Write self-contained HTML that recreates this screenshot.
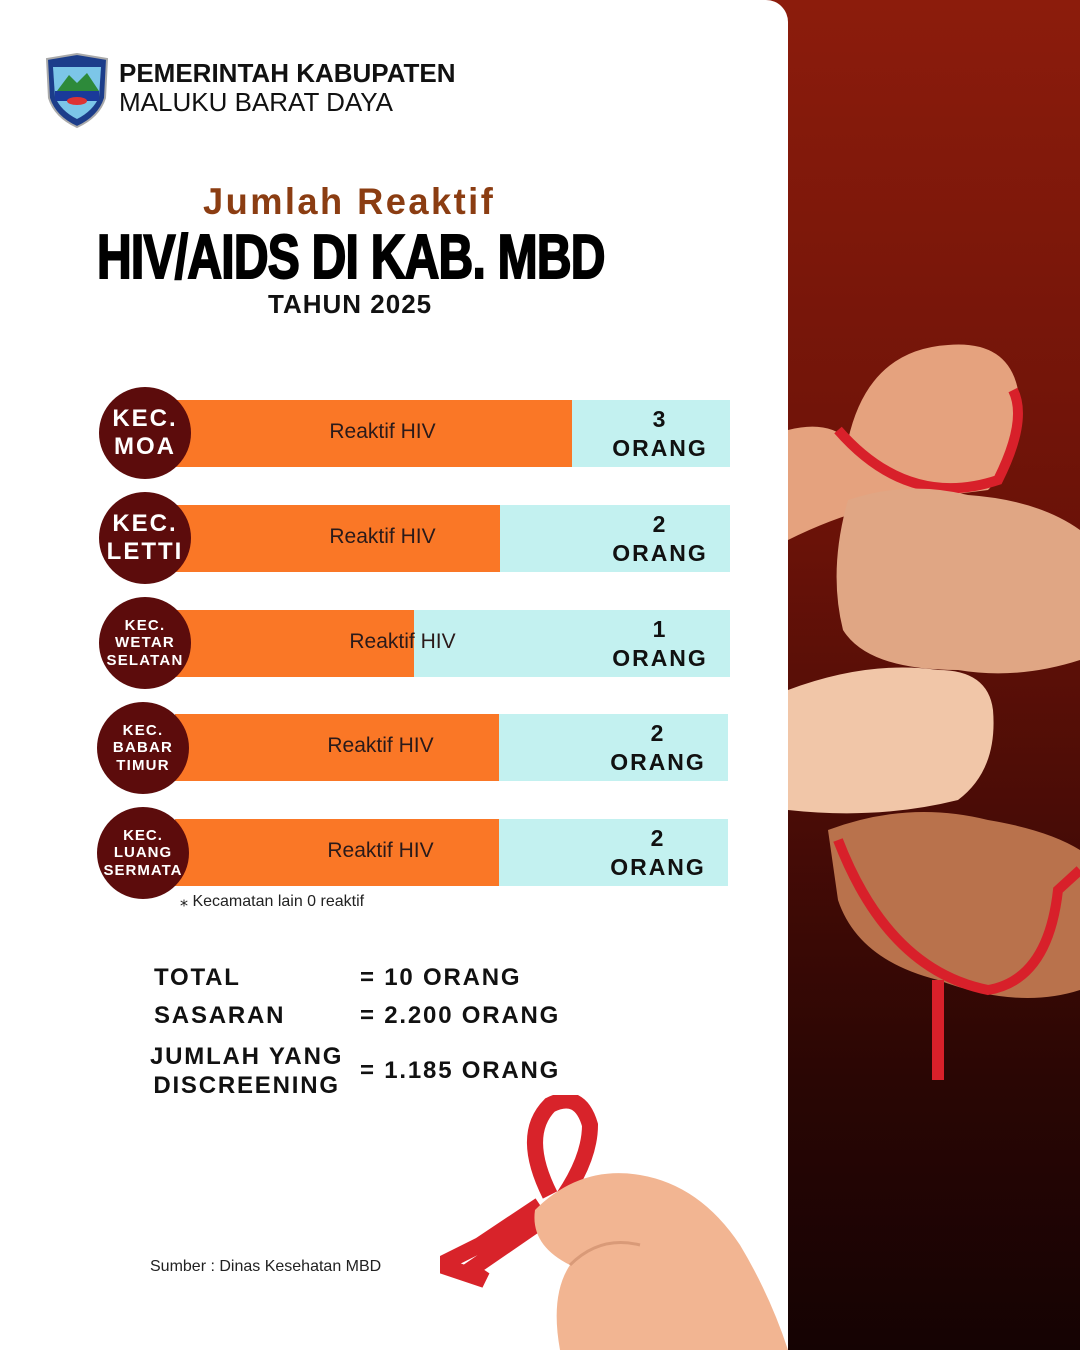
<!DOCTYPE html>
<html><head><meta charset="utf-8"><style>
body{margin:0;width:1080px;height:1350px;overflow:hidden;position:relative;font-family:"Liberation Sans",sans-serif;background:linear-gradient(180deg,#8c1c0c 0%,#6a1208 40%,#2a0604 80%,#150303 100%);}
.panel{position:absolute;left:0;top:0;width:788px;height:1350px;background:#fff;border-top-right-radius:22px;}
.abs{position:absolute}
.circ{position:absolute;width:92px;height:92px;border-radius:50%;background:#5c0c0c;color:#fff;font-weight:bold;text-align:center;display:flex;align-items:center;justify-content:center;letter-spacing:2px;line-height:1.15;z-index:2}
.bar{position:absolute;height:67px;background:#c3f1f0}
.or{position:absolute;left:0;top:0;height:100%;background:#fa7726}
.lab{position:absolute;left:0;width:415px;top:20px;text-align:center;font-size:21px;color:#2a1a1a;z-index:1}
.cnt{position:absolute;right:20px;width:100px;top:5px;text-align:center;font-weight:bold;font-size:23px;letter-spacing:2px;line-height:29px;color:#111}
.tot{position:absolute;font-weight:bold;font-size:24px;letter-spacing:1.8px;color:#111}
</style></head><body>
<div class="panel"></div>
<svg class="abs" style="left:43px;top:53px" width="68" height="76" viewBox="0 0 68 76"><path d="M4 6 L34 1 L64 6 L62 45 Q56 64 34 74 Q12 64 6 45Z" fill="#1c3d8a" stroke="#aaa" stroke-width="2"/><path d="M10 14 L58 14 L56 44 Q50 58 34 66 Q18 58 12 44Z" fill="#7cc6e8"/><path d="M14 38 L26 22 L34 30 L44 20 L56 38Z" fill="#2d8a3a"/><rect x="12" y="38" width="44" height="10" fill="#1a3a9a"/><ellipse cx="34" cy="48" rx="10" ry="4" fill="#d33"/></svg>
<div class="abs" style="left:119px;top:59px;font-size:26px;font-weight:bold;color:#111;line-height:29px">PEMERINTAH KABUPATEN<br><span style="font-weight:normal">MALUKU BARAT DAYA</span></div>
<div class="abs" style="left:203px;top:181px;font-size:37px;font-weight:bold;color:#8b3d12;letter-spacing:2.5px;transform:scaleX(0.98);transform-origin:left;white-space:nowrap">Jumlah Reaktif</div>
<div class="abs" style="left:97px;top:222px;font-size:62px;font-weight:bold;color:#000;transform:scaleX(0.775);transform-origin:left;letter-spacing:-1px;white-space:nowrap;-webkit-text-stroke:2px #000">HIV/AIDS DI KAB. MBD</div>
<div class="abs" style="left:268px;top:289px;font-size:26px;font-weight:bold;color:#111;letter-spacing:1px">TAHUN 2025</div>

<div class="circ" style="left:99px;top:387px;font-size:24px">KEC.<br>MOA</div>
<div class="bar" style="left:175px;top:400px;width:555px"><div class="or" style="width:397px"></div><div class="lab" style="left:0">Reaktif HIV</div><div class="cnt">3<br>ORANG</div></div>
<div class="circ" style="left:99px;top:492px;font-size:24px">KEC.<br>LETTI</div>
<div class="bar" style="left:175px;top:505px;width:555px"><div class="or" style="width:325px"></div><div class="lab">Reaktif HIV</div><div class="cnt">2<br>ORANG</div></div>
<div class="circ" style="left:99px;top:597px;font-size:15px;letter-spacing:1.2px">KEC.<br>WETAR<br>SELATAN</div>
<div class="bar" style="left:175px;top:610px;width:555px"><div class="or" style="width:239px"></div><div class="lab" style="left:20px">Reaktif HIV</div><div class="cnt">1<br>ORANG</div></div>
<div class="circ" style="left:97px;top:702px;font-size:15px;letter-spacing:1.2px">KEC.<br>BABAR<br>TIMUR</div>
<div class="bar" style="left:175px;top:714px;width:553px"><div class="or" style="width:324px"></div><div class="lab" style="left:-2px">Reaktif HIV</div><div class="cnt">2<br>ORANG</div></div>
<div class="circ" style="left:97px;top:807px;font-size:15px;letter-spacing:1px">KEC.<br>LUANG<br>SERMATA</div>
<div class="bar" style="left:175px;top:819px;width:553px"><div class="or" style="width:324px"></div><div class="lab" style="left:-2px">Reaktif HIV</div><div class="cnt">2<br>ORANG</div></div>
<div class="abs" style="left:180px;top:891px;font-size:16px;color:#222">⁎ Kecamatan lain 0 reaktif</div>

<div class="tot" style="left:154px;top:964px">TOTAL</div>
<div class="tot" style="left:360px;top:964px">= 10 ORANG</div>
<div class="tot" style="left:154px;top:1002px">SASARAN</div>
<div class="tot" style="left:360px;top:1002px">= 2.200 ORANG</div>
<div class="tot" style="left:150px;top:1042px;line-height:29px;text-align:center">JUMLAH YANG<br>DISCREENING</div>
<div class="tot" style="left:360px;top:1057px">= 1.185 ORANG</div>
<div class="abs" style="left:150px;top:1258px;font-size:16px;color:#222">Sumber : Dinas Kesehatan MBD</div>

<svg class="abs" style="left:440px;top:1095px" width="348" height="255" viewBox="0 0 348 255">
<path d="M110 100 Q80 40 110 10 Q140 -5 150 30 Q150 70 110 120 L30 175 L45 185 L0 170 L40 150 L100 110" fill="none" stroke="#d8232a" stroke-width="16"/>
<path d="M120 105 L150 200" stroke="#d8232a" stroke-width="16"/>
<path d="M95 115 Q140 70 200 80 Q260 90 300 150 Q330 200 348 255 L120 255 Q110 200 130 170 Q90 150 95 115Z" fill="#f2b592"/>
<path d="M130 170 Q160 140 200 150" fill="none" stroke="#d99a78" stroke-width="3"/>
</svg>
<svg class="abs" style="left:788px;top:330px" width="292" height="760" viewBox="0 0 292 760">
<path d="M0 100 Q40 90 60 110 Q80 20 160 15 Q220 10 230 60 Q230 130 200 160 L120 170 Q60 180 0 210Z" fill="#e5a27e"/>
<path d="M50 100 Q120 180 210 150 Q240 90 225 60" fill="none" stroke="#d8202a" stroke-width="10"/>
<path d="M60 170 Q120 150 180 165 Q250 170 292 200 L292 330 Q230 350 170 340 Q80 340 55 300 Q40 240 60 170Z" fill="#e0a684"/>
<path d="M0 360 Q80 330 150 340 Q200 340 205 380 Q210 440 170 470 Q90 490 0 480Z" fill="#f1c6a8"/>
<path d="M40 500 Q120 470 200 490 Q260 500 292 520 L292 660 Q230 680 150 650 Q70 630 50 570Z" fill="#b9724c"/>
<path d="M50 510 Q100 640 200 660 Q260 650 270 560 L292 540" fill="none" stroke="#d8202a" stroke-width="10"/>
<path d="M150 650 L150 750" stroke="#d8202a" stroke-width="12"/>
</svg>
</body></html>
